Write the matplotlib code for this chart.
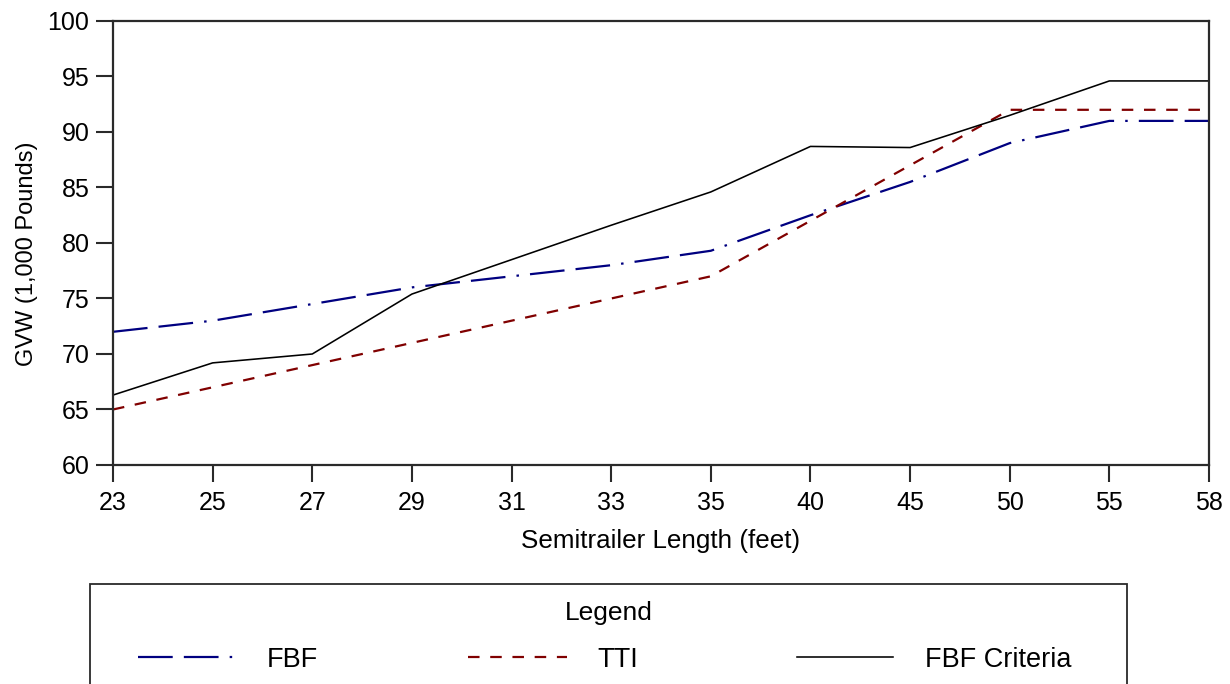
import matplotlib
matplotlib.use("Agg")
import matplotlib.pyplot as plt
from matplotlib.lines import Line2D
from matplotlib.patches import Rectangle

# ---- data ----
x_labels = ['23', '25', '27', '29', '31', '33', '35', '40', '45', '50', '55', '58']
fbf = [72.0, 73.0, 74.5, 76.0, 77.0, 78.0, 79.3, 82.5, 85.5, 89.0, 91.0, 91.0]
tti = [65.0, 67.0, 69.0, 71.0, 73.0, 75.0, 77.0, 82.0, 87.0, 92.0, 92.0, 92.0]
criteria = [66.3, 69.2, 70.0, 75.4, 78.5, 81.6, 84.6, 88.7, 88.6, 91.5, 94.6, 94.6]
y_ticks = [60, 65, 70, 75, 80, 85, 90, 95, 100]
series_names = ['FBF', 'TTI', 'FBF Criteria']

plt.rcParams['font.family'] = ['Liberation Sans', 'DejaVu Sans']
plt.rcParams['font.size'] = 18
plt.rcParams['lines.scale_dashes'] = False

W, H = 1230, 684
fig = plt.figure(figsize=(W / 100, H / 100), dpi=100)
ax = fig.add_axes([113 / W, (H - 465) / H, 1096 / W, 444 / H])

xs = list(range(len(x_labels)))
fbf_style = dict(color='#000080', lw=1.6, dashes=(25, 8, 25, 8, 1.8, 8))
tti_style = dict(color='#800000', lw=1.6, dashes=(8.3, 7.7))
crit_style = dict(color='black', lw=1.15)

ax.plot(xs, fbf, **fbf_style)
ax.plot(xs, tti, **tti_style)
ax.plot(xs, criteria, **crit_style)

ax.set_xlim(0, len(x_labels) - 1)
ax.set_ylim(60, 100)
ax.set_xticks(xs)
ax.set_xticklabels(x_labels)
ax.set_yticks(y_ticks)

for s in ax.spines.values():
    s.set_color('#2a2a2a')
    s.set_linewidth(1.6)
ax.tick_params(axis='both', direction='out', length=12, width=1.5, color='#2a2a2a',
               labelsize=18, labelcolor='black')
ax.tick_params(axis='x', pad=7)
ax.tick_params(axis='y', pad=5)

ax.set_xlabel('Semitrailer Length (feet)', fontsize=18.7)
ax.xaxis.label.set_va('baseline')
ax.xaxis.set_label_coords(0.5, (H - 548 - (H - 465)) / 444)
ax.set_ylabel('GVW (1,000 Pounds)', fontsize=17)
ax.yaxis.set_label_coords((38 - 113) / 1096, (465 - 254) / 444)

# ---- legend box (cropped at the bottom of the image) ----
fig.patches.append(Rectangle((90 / W, -0.1), 1037 / W, 0.1 + (1 - 584 / H),
                             transform=fig.transFigure, fill=False,
                             edgecolor='#2a2a2a', lw=1.3, clip_on=False))
fig.text(609 / W, 1 - 620 / H, 'Legend', ha='center', va='baseline', fontsize=19)

ly = 1 - 657 / H
samples = [(138, 236, fbf_style, 267), (468, 567, tti_style, 597), (797, 893, crit_style, 925)]
for (x0, x1, st, tx), name in zip(samples, series_names):
    fig.add_artist(Line2D([x0 / W, x1 / W], [ly, ly], transform=fig.transFigure, **st))
    fig.text(tx / W, 1 - 667 / H, name, ha='left', va='baseline', fontsize=19.5)

fig.savefig('out.png', dpi=100)
